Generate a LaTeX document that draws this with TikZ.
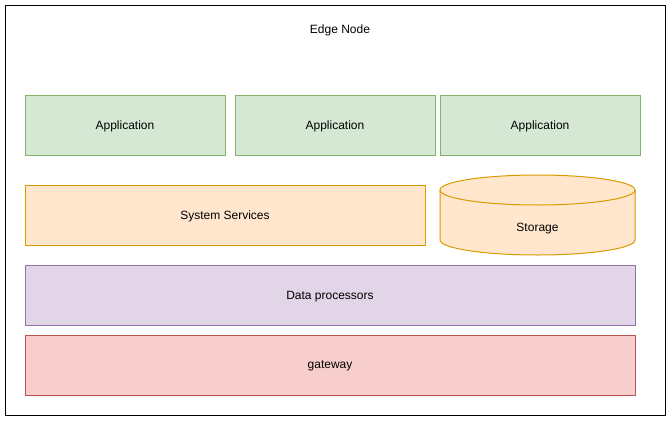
\documentclass[tikz,border=0pt]{standalone}
\usepackage{fontspec}
\setmainfont{Liberation Sans}
\usetikzlibrary{positioning}
\definecolor{appfill}{HTML}{D5E8D4}
\definecolor{appline}{HTML}{82B366}
\definecolor{svcfill}{HTML}{FFE6CC}
\definecolor{svcline}{HTML}{D79B00}
\definecolor{procfill}{HTML}{E1D5E7}
\definecolor{procline}{HTML}{9673A6}
\definecolor{gatefill}{HTML}{F8CECC}
\definecolor{gateline}{HTML}{B85450}
\tikzset{
  layer/.style={rectangle,line width=.75pt,minimum height=45pt,
    font=\fontsize{9}{11}\selectfont,text=black,inner sep=0pt,text depth=0pt},
  appbox/.style={layer,draw=appline,fill=appfill,minimum width=150pt},
  svcbox/.style={layer,draw=svcline,fill=svcfill},
  procbox/.style={layer,draw=procline,fill=procfill},
  gatebox/.style={layer,draw=gateline,fill=gatefill}
}
\begin{document}
\begin{tikzpicture}[x=0.75pt,y=-0.75pt]
\path[use as bounding box] (0,0) rectangle (671,421);

% Outer frame
\node[draw=black,line width=.75pt,minimum width=495pt,minimum height=307.5pt,
  inner sep=0pt] (edgenode) at (335,210) {};
\node[font=\fontsize{9}{11}\selectfont] (edgelabel) at (340,30) {Edge Node};

% Row 1: applications
\node[appbox] (app1) at (125,125) {Application};
\node[appbox] (app2) at (335,125) {Application};
\node[appbox] (app3) at (540,125) {Application};

% Row 2: services and storage
\node[svcbox,minimum width=300pt] (services) at (225,215) {System Services};
\fill[svcfill] (440,190) -- (440,240)
  arc[start angle=180,end angle=0,x radius=97.5,y radius=15]
  -- (635,190)
  arc[start angle=0,end angle=-180,x radius=97.5,y radius=15] -- cycle;
\draw[svcline,line width=.75pt] (440,190) -- (440,240)
  arc[start angle=180,end angle=0,x radius=97.5,y radius=15] -- (635,190);
\draw[svcline,line width=.75pt] (537.5,190) ellipse[x radius=97.5,y radius=15];
\node[font=\fontsize{9}{11}\selectfont] (storage) at (537.5,228.5) {Storage};

% Row 3 and 4
\node[procbox,minimum width=457.5pt] (processors) at (330,295) {Data processors};
\node[gatebox,minimum width=457.5pt] (gateway) at (330,365) {gateway};

\end{tikzpicture}
\end{document}
